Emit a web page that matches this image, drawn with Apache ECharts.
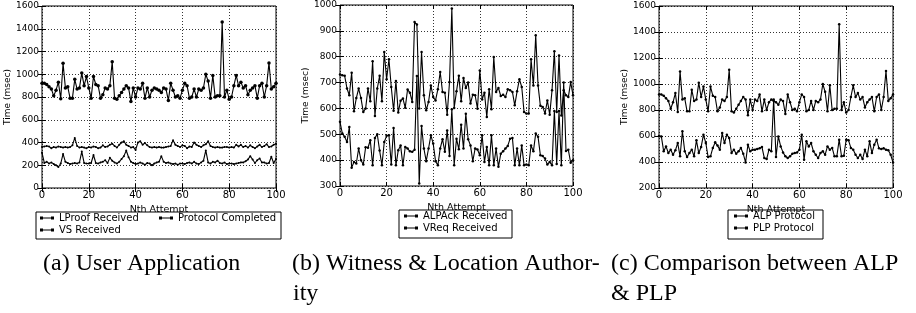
<!DOCTYPE html>
<html><head><meta charset="utf-8">
<script src="https://cdn.jsdelivr.net/npm/echarts@6/dist/echarts.min.js"></script>
<style>html,body{margin:0;padding:0;background:#fff;}#c{width:916px;height:313px;}</style>
</head><body><div id="c"></div>
<script>
var attempts = [];
for (var k = 0; k <= 100; k++) attempts.push(k);
var xTicks = [0, 20, 40, 60, 80, 100];
var yTicksA = [0, 1600, 200];
var yTicksB = [300, 1000, 100];
var yTicksC = [200, 1600, 200];

var lproofReceived = [310,220,230,215,225,210,200,185,215,300,
230,220,210,215,220,215,225,320,220,215,
215,220,290,220,215,225,230,245,220,265,
240,225,215,230,255,280,330,270,230,220,
210,215,225,215,205,220,215,200,215,225,
230,280,230,220,225,215,210,215,205,215,
215,210,220,225,215,230,215,210,225,240,
330,225,215,230,225,240,220,215,225,210,
215,215,210,215,220,225,225,235,250,280,
250,220,245,260,225,225,215,220,275,220,255];

var vsReceived = [360,365,370,365,350,360,355,365,360,355,
360,355,360,375,440,370,355,360,355,350,
360,355,365,360,350,355,375,360,365,380,
390,370,355,380,400,410,380,370,355,360,
335,400,410,380,395,375,360,355,360,355,
360,355,355,360,365,370,420,380,370,360,
375,370,350,365,360,400,380,370,360,375,
385,410,370,360,355,360,355,355,360,360,
355,360,355,380,365,380,360,370,355,375,
360,350,365,380,360,370,385,360,365,380,390];

var protocolCompleted = [920,920,910,890,870,810,860,930,785,1097,
880,890,790,790,955,870,880,1010,900,980,
880,790,980,910,900,790,820,880,870,900,
1110,790,780,810,840,870,900,880,760,880,
800,880,870,920,790,880,800,860,880,870,
860,840,880,870,770,920,860,800,810,790,
860,920,900,790,800,870,800,870,860,880,
1000,940,790,990,800,810,810,1460,800,860,
780,800,900,990,900,930,880,900,820,860,
880,900,790,900,920,800,900,1100,870,890,920];

var alpackReceived = [731,728,726,677,651,738,589,640,677,640,
586,600,677,628,782,571,677,726,628,818,
713,790,683,591,706,584,630,638,603,673,
661,625,934,925,600,818,651,593,625,689,
644,631,674,741,664,661,576,702,986,602,
666,726,628,718,679,700,619,653,651,599,
747,635,661,567,674,597,799,664,679,648,
653,644,674,670,664,612,666,713,683,586,
580,580,790,689,883,689,610,606,580,631,
576,670,821,586,805,573,670,651,644,702,651];

var vreqReceived = [548,503,490,470,528,371,393,387,445,400,
383,450,448,477,380,486,500,437,380,470,
494,496,383,524,380,438,457,380,451,445,
434,432,440,725,310,532,445,396,445,496,
464,396,380,445,481,432,515,416,597,380,
483,442,537,445,579,481,457,396,445,441,
419,496,393,451,380,496,380,445,374,425,
434,445,455,483,486,380,445,380,457,380,
383,380,457,434,503,490,419,416,406,383,
393,380,590,385,590,380,700,435,440,390,400];

var alpProtocol = protocolCompleted;

var plpProtocol = [600,597,482,520,469,495,456,490,546,444,
636,482,438,469,495,444,567,469,515,610,
546,438,444,508,551,526,495,623,546,610,
585,469,495,464,482,508,464,397,533,482,
495,495,500,505,515,431,423,495,482,880,
438,597,520,474,444,431,444,464,469,474,
495,610,418,559,520,546,482,456,431,469,
482,456,520,495,508,444,444,572,444,449,
572,567,508,495,456,431,456,423,495,444,
559,469,533,572,505,500,505,495,490,456,397];

function pairs(vals) { return vals.map(function (v, i) { return [attempts[i], v]; }); }

var chart = echarts.init(document.getElementById('c'), null, {renderer: 'canvas'});
var FONT = 'DejaVu Sans';
var grids = [
  {left: 42, right: 640, top: 6, bottom: 125},
  {left: 340, right: 343, top: 5, bottom: 127},
  {left: 659, right: 23, top: 6, bottom: 125}
];
var yT = [yTicksA, yTicksB, yTicksC];
var nameGaps = [19, 17, 18];
var xAxes = [], yAxes = [];
function plain(v) { return String(v); }
grids.forEach(function (g, gi) {
  g.show = true; g.borderColor = '#000'; g.borderWidth = 1; g.backgroundColor = '#fff';
  xAxes.push({
    type: 'value', gridIndex: gi, min: xTicks[0], max: xTicks[xTicks.length - 1], interval: xTicks[1] - xTicks[0],
    name: 'Nth Attempt', nameLocation: 'middle', nameGap: 3,
    nameTextStyle: {fontFamily: FONT, fontSize: 9.5, color: '#000'},
    axisLine: {show: false}, axisTick: {inside: true, length: 4, lineStyle: {color: '#000'}},
    axisLabel: {margin: 2, fontFamily: FONT, fontSize: 10, color: '#000', formatter: plain},
    splitLine: {show: true, lineStyle: {color: '#000', type: [1, 2], width: 0.8}}
  });
  xAxes.push({
    type: 'value', gridIndex: gi, position: 'top', min: xTicks[0], max: xTicks[xTicks.length - 1], interval: xTicks[1] - xTicks[0],
    axisLine: {show: false}, axisTick: {inside: true, length: 4, lineStyle: {color: '#000'}},
    axisLabel: {show: false}, splitLine: {show: false}
  });
  yAxes.push({
    type: 'value', gridIndex: gi, min: yT[gi][0], max: yT[gi][1], interval: yT[gi][2],
    name: 'Time (msec)', nameLocation: 'middle', nameGap: nameGaps[gi],
    nameTextStyle: {fontFamily: FONT, fontSize: 9, color: '#000'},
    axisLine: {show: false}, axisTick: {inside: true, length: 4, lineStyle: {color: '#000'}},
    axisLabel: {margin: 3, fontFamily: FONT, fontSize: 9, color: '#000', formatter: plain},
    splitLine: {show: true, lineStyle: {color: '#000', type: [1, 2], width: 0.8}}
  });
  yAxes.push({
    type: 'value', gridIndex: gi, position: 'right', min: yT[gi][0], max: yT[gi][1], interval: yT[gi][2],
    axisLine: {show: false}, axisTick: {inside: true, length: 4, lineStyle: {color: '#000'}},
    axisLabel: {show: false}, splitLine: {show: false}
  });
});

function line(name, data, gi, sym) {
  return {
    name: name, type: 'line', xAxisIndex: gi * 2, yAxisIndex: gi * 2, data: pairs(data),
    symbol: 'circle', symbolSize: sym, showSymbol: true, animation: false,
    lineStyle: {color: '#000', width: 1.1}, itemStyle: {color: '#000'}, z: 3
  };
}

var icon = 'path://M0,0.5h3v3h-3z M3,1.6h8v0.8h-8z M11,0.5h3v3h-3z';
function legend(names, left, top) {
  return {
    data: names, orient: 'vertical', left: left, top: top, itemGap: 2, itemWidth: 14, itemHeight: 4,
    icon: icon, padding: 0, selectedMode: false,
    textStyle: {fontFamily: FONT, fontSize: 10, color: '#000'}
  };
}

function cap(text, x, y) {
  return {type: 'text', x: x, y: y, style: {text: text, font: '24px "Liberation Serif"', fill: '#000', textVerticalAlign: 'middle', verticalAlign: 'middle'}};
}
function box(x, y, w, h) {
  return {type: 'rect', shape: {x: x, y: y, width: w, height: h}, style: {fill: 'none', stroke: '#000', lineWidth: 1}};
}

chart.setOption({
  animation: false,
  grid: grids,
  xAxis: xAxes,
  yAxis: yAxes,
  legend: [
    legend(['LProof Received', 'VS Received'], 40, 213),
    legend(['Protocol Completed'], 159, 213),
    legend(['ALPAck Received', 'VReq Received'], 404, 211),
    legend(['ALP Protocol', 'PLP Protocol'], 734, 211)
  ],
  series: [
    line('LProof Received', lproofReceived, 0, 2),
    line('Protocol Completed', protocolCompleted, 0, 3.5),
    line('VS Received', vsReceived, 0, 2),
    line('ALPAck Received', alpackReceived, 1, 2.5),
    line('VReq Received', vreqReceived, 1, 2.5),
    line('ALP Protocol', alpProtocol, 2, 2.5),
    line('PLP Protocol', plpProtocol, 2, 2.5)
  ],
  graphic: [
    box(36, 212, 245, 27),
    box(399, 210, 113, 28),
    box(728, 210, 95, 29),
    cap('(a) User Application', 43, 264),
    cap('(b) Witness & Location Author-', 292, 264),
    cap('ity', 293, 294),
    cap('(c) Comparison between ALP', 611, 264),
    cap('& PLP', 611, 294)
  ]
});
</script></body></html>
